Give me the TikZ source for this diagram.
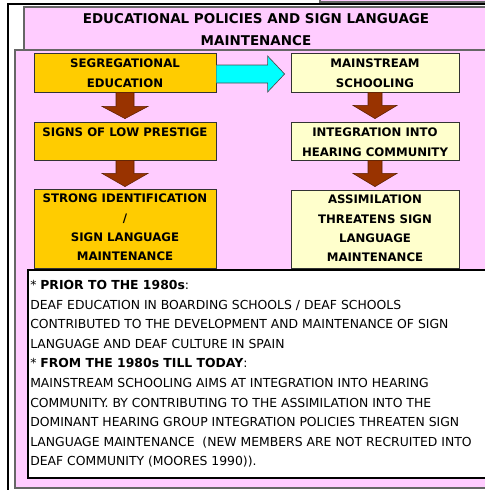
\documentclass[tikz,border=0pt]{standalone}
\usepackage{fontspec}
\setmainfont{DejaVu Sans}
\usetikzlibrary{calc}
\definecolor{pinkbg}{HTML}{FFCCFF}
\definecolor{orangebox}{HTML}{FFCC00}
\definecolor{paleyellow}{HTML}{FFFFCC}
\definecolor{brownarrow}{HTML}{993300}
\definecolor{cyanarrow}{HTML}{00FFFF}
\begin{document}
\begin{tikzpicture}[x=0.75pt,y=-0.75pt,
  panel/.style={fill=pinkbg,draw=black!60,line width=0.8pt},
  obox/.style={draw=black!80,fill=orangebox,line width=0.6pt,inner sep=0pt,minimum width=136.5pt},
  ybox/.style={draw=black!80,fill=paleyellow,line width=0.6pt,inner sep=0pt,minimum width=126pt},
  boxtext/.style={font=\fontsize{8.8}{14.6}\selectfont\bfseries,align=center,anchor=north,inner sep=0pt},
  downarr/.style={fill=brownarrow,draw=brownarrow!60!black,line width=0.4pt},
  titletext/.style={font=\fontsize{10.1}{16.5}\selectfont\bfseries,align=center,anchor=north,inner sep=0pt},
  bodytext/.style={font=\fontsize{9.3}{14.7}\selectfont,align=left,anchor=north west,inner sep=0pt},
]
\useasboundingbox (0,0) rectangle (485,490);
\clip (0,0) rectangle (485,490);
% frames
\fill[white] (0,0) rectangle (485,490);
\draw[panel] (320,-10) rectangle (500,2);
\draw[black,line width=0.8pt,fill=white] (8,4) rectangle (500,500);
\draw[panel] (24,7) rectangle (500,50);
\draw[panel] (15,50) rectangle (500,488);
\node[titletext] (title) at (256,13) {EDUCATIONAL POLICIES AND SIGN LANGUAGE\\MAINTENANCE};
% boxes
\node[obox,minimum height=29.25pt] (l1) at (125,72.5) {};
\node[obox,minimum height=28.5pt] (l2) at (125,141) {};
\node[obox,minimum height=59.25pt] (l3) at (125,228.5) {};
\node[ybox,minimum height=29.25pt] (r1) at (375,72.5) {};
\node[ybox,minimum height=28.5pt] (r2) at (375,141) {};
\node[ybox,minimum height=58.5pt] (r3) at (375,229) {};
\node[boxtext] (l1t) at ($(l1.north)+(0,6)$) {SEGREGATIONAL\\EDUCATION};
\node[boxtext] (l2t) at ($(l2.north)+(0,6)$) {SIGNS OF LOW PRESTIGE};
\node[boxtext] (l3t) at ($(l3.north)+(0,5)$) {STRONG IDENTIFICATION\\/\\SIGN LANGUAGE\\MAINTENANCE};
\node[boxtext] (r1t) at ($(r1.north)+(0,6)$) {MAINSTREAM\\SCHOOLING};
\node[boxtext] (r2t) at ($(r2.north)+(0,6)$) {INTEGRATION INTO\\HEARING COMMUNITY};
\node[boxtext] (r3t) at ($(r3.north)+(0,5)$) {ASSIMILATION\\THREATENS SIGN\\LANGUAGE\\MAINTENANCE};
% cyan arrow
\coordinate (ca) at ($(l1.east)+(0,1.5)$);
\coordinate (cb) at ($(r1.west)+(-6,1.5)$);
\fill[cyanarrow] ($(ca)+(0,-9)$) -- ($(cb)+(-17,-9)$) -- ($(cb)+(-17,-18)$) -- (cb) -- ($(cb)+(-17,18)$) -- ($(cb)+(-17,9)$) -- ($(ca)+(0,9)$) -- cycle;
\draw[black!70,line width=0.5pt] ($(ca)+(0,-9)$) -- ($(cb)+(-17,-9)$) -- ($(cb)+(-17,-18)$) -- (cb) -- ($(cb)+(-17,18)$) -- ($(cb)+(-17,9)$) -- ($(ca)+(0,9)$);
% brown arrows
\draw[downarr] ($(l1.south)+(-9,0)$) -- ($(l1.south)+(9,0)$) -- ($(l1.south)+(9,14)$) -- ($(l1.south)+(23,14)$) -- ($(l2.north)+(0,-3)$) -- ($(l1.south)+(-23,14)$) -- ($(l1.south)+(-9,14)$) -- cycle;
\draw[downarr] ($(l2.south)+(-9,0)$) -- ($(l2.south)+(9,0)$) -- ($(l2.south)+(9,13)$) -- ($(l2.south)+(23,13)$) -- ($(l3.north)+(0,-2)$) -- ($(l2.south)+(-23,13)$) -- ($(l2.south)+(-9,13)$) -- cycle;
\draw[downarr] ($(r1.south)+(-7,0)$) -- ($(r1.south)+(7,0)$) -- ($(r1.south)+(7,13)$) -- ($(r1.south)+(22,13)$) -- ($(r2.north)+(0,-3)$) -- ($(r1.south)+(-22,13)$) -- ($(r1.south)+(-7,13)$) -- cycle;
\draw[downarr] ($(r2.south)+(-7,0)$) -- ($(r2.south)+(7,0)$) -- ($(r2.south)+(7,13)$) -- ($(r2.south)+(22,13)$) -- ($(r3.north)+(0,-3)$) -- ($(r2.south)+(-22,13)$) -- ($(r2.south)+(-7,13)$) -- cycle;
% text box
\draw[black,line width=0.8pt,fill=white] (28,270) rectangle (500,478);
\node[bodytext] (body) at (30,280) {* \textbf{PRIOR TO THE 1980s}:\\
DEAF EDUCATION IN BOARDING SCHOOLS / DEAF SCHOOLS\\
CONTRIBUTED TO THE DEVELOPMENT AND MAINTENANCE OF SIGN\\
LANGUAGE AND DEAF CULTURE IN SPAIN\\
* \textbf{FROM THE 1980s TILL TODAY}:\\
MAINSTREAM SCHOOLING AIMS AT INTEGRATION INTO HEARING\\
COMMUNITY. BY CONTRIBUTING TO THE ASSIMILATION INTO THE\\
DOMINANT HEARING GROUP INTEGRATION POLICIES THREATEN SIGN\\
LANGUAGE MAINTENANCE \ (NEW MEMBERS ARE NOT RECRUITED INTO\\
DEAF COMMUNITY (MOORES 1990)).};
\end{tikzpicture}
\end{document}
